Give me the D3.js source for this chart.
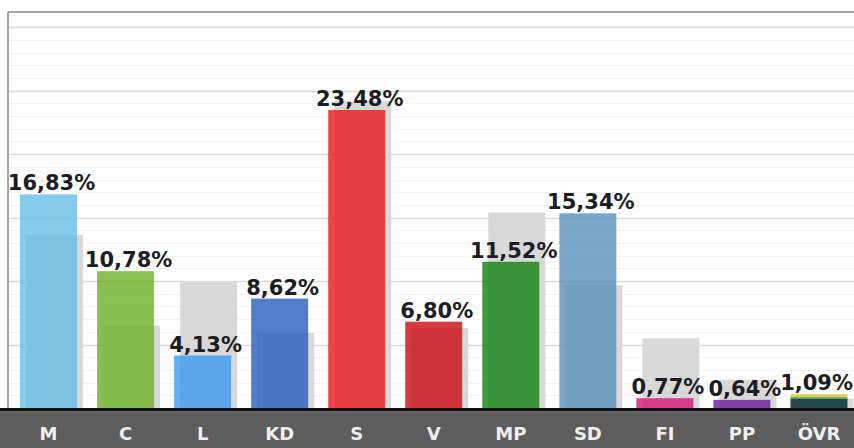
<!DOCTYPE html>
<html><head><meta charset="utf-8">
<script src="https://cdn.jsdelivr.net/npm/d3@7"></script>
<style>html,body{margin:0;padding:0;background:#fff;overflow:hidden}</style>
</head><body>
<svg id="c" width="854" height="448"></svg>
<script>
const parties = ["M","C","L","KD","S","V","MP","SD","FI","PP","ÖVR"];
const results2019 = [16.83,10.78,4.13,8.62,23.48,6.80,11.52,15.34,0.77,0.64,1.09];
const results2014 = [13.65,6.49,9.91,5.93,24.19,6.30,15.41,9.67,5.49,2.23,0.73];
const labels2019 = ["16,83%","10,78%","4,13%","8,62%","23,48%","6,80%","11,52%","15,34%","0,77%","0,64%","1,09%"];
const partyColors = ["#68bee6","#6eb227","#3b9aef","#235fbd","#ec1818","#c90b12","#0f810f","#5991bb","#d31579","#6d17a1",null];
const ovrParts = [0.72,0.14,0.23];
const ovrColors = ["#24484a","#4f9a6e","#e3d34a"];
const gridMajor = [5,10,15,20,25,30];

const svg = d3.select("#c");
const W = 854, H = 448, plotLeft = 8, plotTop = 12, base = 408;
const x = d3.scaleBand().domain(parties).range([10, 857.5]).paddingInner(0.26).paddingOuter(0.13);
const y = d3.scaleLinear().domain([0, 31.2]).range([base, plotTop]);
const off = 6;

// minor grid
svg.append("g").selectAll("line").data(d3.range(1, 32)).join("line")
  .attr("x1", plotLeft).attr("x2", W).attr("y1", d => Math.round(y(d)) + 0.5).attr("y2", d => Math.round(y(d)) + 0.5)
  .attr("stroke", "#f4f4f4").attr("stroke-width", 1);
// major grid
svg.append("g").selectAll("line").data(gridMajor).join("line")
  .attr("x1", plotLeft).attr("x2", W).attr("y1", d => Math.round(y(d)) + 0.5).attr("y2", d => Math.round(y(d)) + 0.5)
  .attr("stroke", "#d9d9d9").attr("stroke-width", 1.3);

// frame
svg.append("line").attr("x1", plotLeft).attr("x2", W).attr("y1", plotTop).attr("y2", plotTop).attr("stroke", "#8a8a8a").attr("stroke-width", 1.5);
svg.append("line").attr("x1", plotLeft).attr("x2", plotLeft).attr("y1", plotTop).attr("y2", base).attr("stroke", "#8a8a8a").attr("stroke-width", 1.5);

// 2014 gray bars
svg.append("g").selectAll("rect").data(parties).join("rect")
  .attr("x", d => x(d) + off).attr("width", x.bandwidth())
  .attr("y", (d, i) => y(results2014[i])).attr("height", (d, i) => base - y(results2014[i]))
  .attr("fill", "#d8d8d8");

// 2019 bars
const bars = svg.append("g");
parties.forEach((p, i) => {
  if (partyColors[i]) {
    bars.append("rect").attr("x", x(p)).attr("width", x.bandwidth())
      .attr("y", y(results2019[i])).attr("height", base - y(results2019[i]))
      .attr("fill", partyColors[i]).attr("fill-opacity", 0.8);
  } else {
    let acc = 0;
    ovrParts.forEach((v, k) => {
      bars.append("rect").attr("x", x(p)).attr("width", x.bandwidth())
        .attr("y", y(acc + v)).attr("height", y(acc) - y(acc + v))
        .attr("fill", ovrColors[k]);
      acc += v;
    });
  }
});

// value labels
const vl = svg.append("g").selectAll("text").data(parties).join("text")
  .attr("x", d => x(d) + x.bandwidth() / 2 + 3)
  .attr("y", (d, i) => y(results2019[i]) - 4)
  .attr("text-anchor", "middle")
  .attr("font-family", "DejaVu Sans, Verdana, sans-serif")
  .attr("font-weight", "bold").attr("font-size", 21)
  .attr("fill", "#1c1c24")
  .text((d, i) => labels2019[i]);
vl.each(function () {
  const b = this.getBBox();
  if (b.x + b.width > W - 1) {
    d3.select(this).attr("x", +d3.select(this).attr("x") - (b.x + b.width - (W - 1)));
  }
});

// bottom band
svg.append("rect").attr("x", 0).attr("y", base).attr("width", W).attr("height", 3.5).attr("fill", "#111");
svg.append("rect").attr("x", 0).attr("y", base + 3.5).attr("width", W).attr("height", H - base - 3.5).attr("fill", "#5d5d5d");

const xAxis = d3.axisBottom(x).tickSize(0).tickPadding(0);
const ax = svg.append("g").attr("transform", `translate(0,${base})`).call(xAxis);
ax.select(".domain").remove();
ax.selectAll("text")
  .attr("y", 32).attr("dy", 0)
  .attr("font-family", "DejaVu Sans, Verdana, sans-serif")
  .attr("font-weight", "bold").attr("font-size", 18)
  .attr("fill", "#efefef");
</script>
</body></html>
